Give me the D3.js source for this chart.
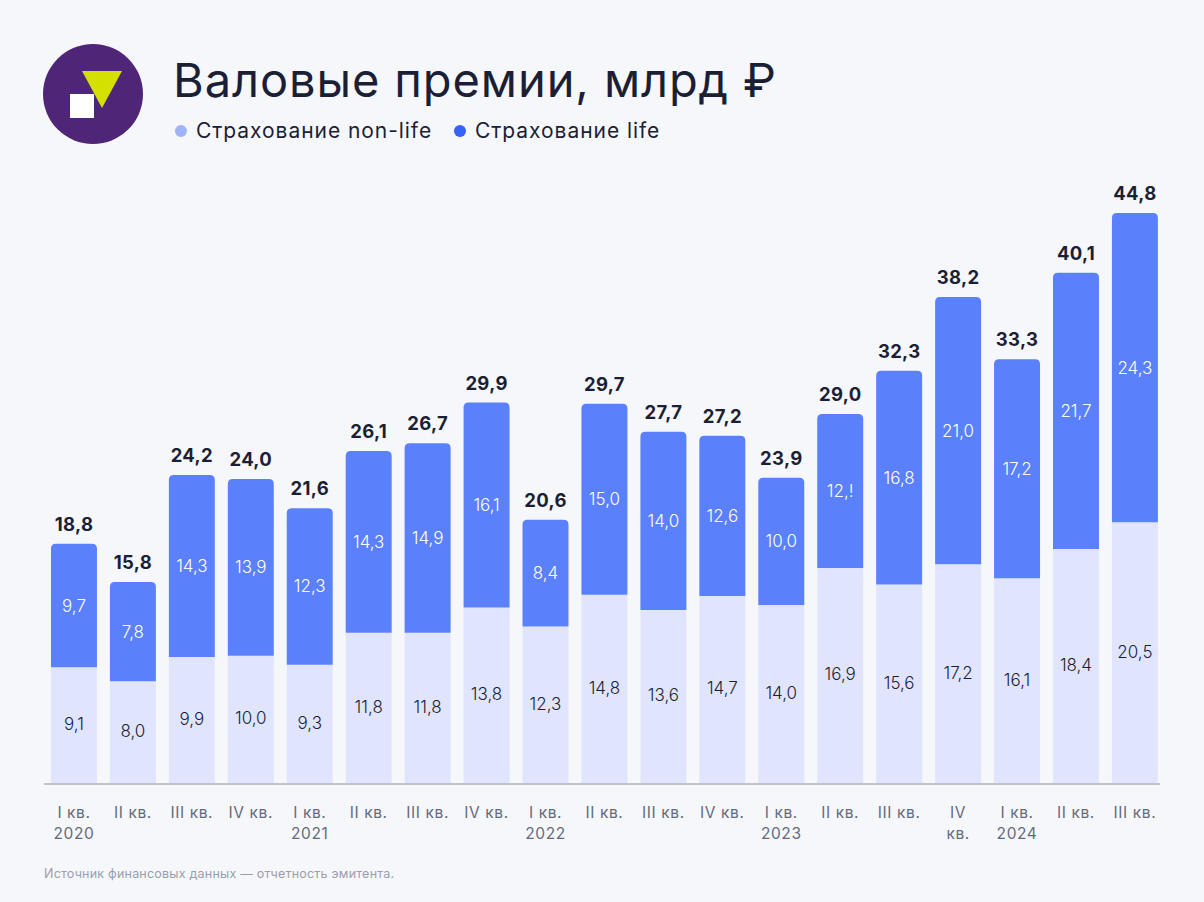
<!DOCTYPE html>
<html><head><meta charset="utf-8">
<script src="https://cdn.jsdelivr.net/npm/d3@7"></script>
<style>
html,body{margin:0;padding:0;background:#F6F7FB;}
svg{display:block;font-family:"Inter","Noto Sans",sans-serif;}
</style></head>
<body><svg id="c" width="1204" height="902"></svg>
<script>
const categories = [["I кв.","2020"],["II кв."],["III кв."],["IV кв."],["I кв.","2021"],["II кв."],["III кв."],["IV кв."],["I кв.","2022"],["II кв."],["III кв."],["IV кв."],["I кв.","2023"],["II кв."],["III кв."],["IV","кв."],["I кв.","2024"],["II кв."],["III кв."]];
const nonLife = [9.1,8.0,9.9,10.0,9.3,11.8,11.8,13.8,12.3,14.8,13.6,14.7,14.0,16.9,15.6,17.2,16.1,18.4,20.5];
const life = [9.7,7.8,14.3,13.9,12.3,14.3,14.9,16.1,8.4,15.0,14.0,12.6,10.0,12.1,16.8,21.0,17.2,21.7,24.3];
const totals = [18.8,15.8,24.2,24.0,21.6,26.1,26.7,29.9,20.6,29.7,27.7,27.2,23.9,29.0,32.3,38.2,33.3,40.1,44.8];
const lifeLabels = ["9,7","7,8","14,3","13,9","12,3","14,3","14,9","16,1","8,4","15,0","14,0","12,6","10,0","12,!","16,8","21,0","17,2","21,7","24,3"];
const seriesNames = ["Страхование non-life","Страхование life"];

const svg = d3.select("#c");
const fmt = v => d3.format(".1f")(v).replace(".", ",");
const idx = d3.range(categories.length);

const x = d3.scaleBand().domain(idx).range([44.5, 1164.4]).paddingInner(0.22).paddingOuter(0.11);
const y = d3.scaleLinear().domain([0, 44.8]).range([783, 213]);

// Logo
const logo = svg.append("g");
logo.append("circle").attr("cx",93).attr("cy",94).attr("r",50).attr("fill","#4F2577");
logo.append("polygon").attr("points","82,71 122,71 102,108").attr("fill","#D4E000");
logo.append("rect").attr("x",70).attr("y",94).attr("width",24).attr("height",24).attr("fill","#fff");

// Title
svg.append("text").attr("x",173).attr("y",97).attr("font-size",47).attr("fill","#1B1F36")
  .attr("font-weight",400).attr("letter-spacing",0.9).text("Валовые премии, млрд ₽");

// Legend
const legendColors = ["#A0B3F9","#3762F5"];
const lx = [181, 460];
seriesNames.forEach((n,i)=>{
  svg.append("circle").attr("cx",lx[i]).attr("cy",131).attr("r",6).attr("fill",legendColors[i]);
  svg.append("text").attr("x",lx[i]+15).attr("y",138).attr("font-size",21).attr("letter-spacing",0.95)
    .attr("fill","#1B1F36").text(n);
});

const r = 5;
function topRounded(x0,y0,w,h,r){
  return `M${x0},${y0+h}V${y0+r}Q${x0},${y0} ${x0+r},${y0}H${x0+w-r}Q${x0+w},${y0} ${x0+w},${y0+r}V${y0+h}Z`;
}
const g = svg.append("g");
idx.forEach(i=>{
  const bx = x(i), bw = x.bandwidth();
  const yNL = y(nonLife[i]);
  const yTop = y(nonLife[i]+life[i]);
  g.append("rect").attr("x",bx).attr("y",yNL).attr("width",bw).attr("height",y(0)-yNL).attr("fill","#E0E5FD");
  g.append("path").attr("d",topRounded(bx,yTop,bw,yNL-yTop,r)).attr("fill","#5B80FB");
  g.append("text").attr("x",bx+bw/2).attr("y",(yNL+y(0))/2+5).attr("text-anchor","middle")
    .attr("font-size",17).attr("font-weight",300).attr("fill","#1B1F36").text(fmt(nonLife[i]));
  g.append("text").attr("x",bx+bw/2).attr("y",(yTop+yNL)/2+6).attr("text-anchor","middle")
    .attr("font-size",17).attr("font-weight",300).attr("fill","#fff").text(lifeLabels[i]);
  g.append("text").attr("x",bx+bw/2).attr("y",yTop-13).attr("text-anchor","middle")
    .attr("font-size",18.5).attr("font-weight",700).attr("letter-spacing",0.3).attr("fill","#1B1F36").text(fmt(totals[i]));
});

// baseline
svg.append("line").attr("x1",44).attr("x2",1160).attr("y1",784).attr("y2",784).attr("stroke","#8A8E9C").attr("stroke-width",1);

// x labels
idx.forEach(i=>{
  const t = svg.append("text").attr("x",x(i)+x.bandwidth()/2).attr("y",818).attr("text-anchor","middle")
    .attr("font-size",15.5).attr("letter-spacing",0.6).attr("fill","#656A7B");
  categories[i].forEach((s,k)=> t.append("tspan").attr("x",x(i)+x.bandwidth()/2).attr("dy",k?21:0).text(s));
});

svg.append("text").attr("x",44).attr("y",878).attr("font-size",12.5).attr("letter-spacing",0.22).attr("fill","#9A9EAC")
  .text("Источник финансовых данных — отчетность эмитента.");
</script></body></html>
